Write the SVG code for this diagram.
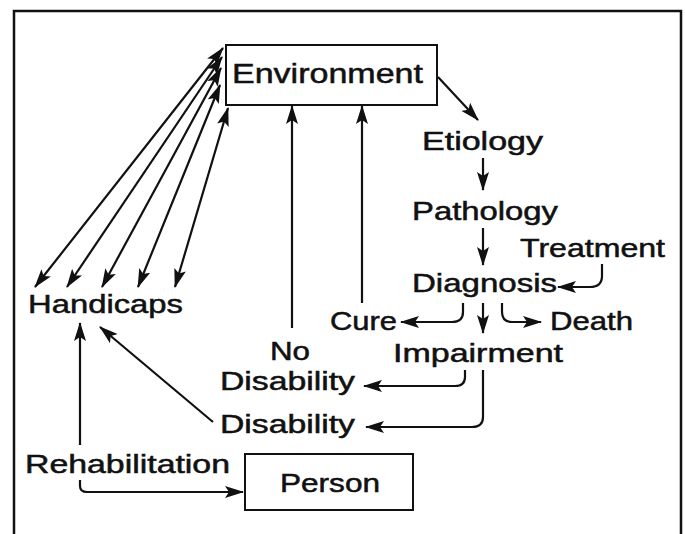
<svg xmlns="http://www.w3.org/2000/svg" width="685" height="534" viewBox="0 0 685 534">
<style>
text{font-family:"Liberation Sans","DejaVu Sans",Arial,sans-serif;font-size:25px;fill:#111;stroke:#111;stroke-width:0.5}
.box{fill:#fff;stroke:#111;stroke-width:2}
.c{fill:none;stroke:#111;stroke-width:2.2}
.a{marker-end:url(#ah)}
.d{marker-start:url(#ah);marker-end:url(#ah)}
.frame{fill:none;stroke:#111;stroke-width:2.5}
</style>
<defs>
<marker id="ah" markerUnits="userSpaceOnUse" markerWidth="19" markerHeight="12" refX="18" refY="6" orient="auto-start-reverse" viewBox="0 0 19 12">
<path d="M0,0 L19,6 L0,12 L4,6 z" fill="#111"/>
</marker>
</defs>
<path class="frame" d="M14,534 L14,11 L681,11 L681,534"/>
<g id="connectors">
<path class="c a" d="M438,77 L478,120"/>
<path class="c a" d="M483,158 L483,190"/>
<path class="c a" d="M483,228 L483,265"/>
<path class="c a" d="M602,264 L602,276 Q602,287 590,287 L558,287"/>
<path class="c a" d="M463,303 L463,312 Q463,322 452,322 L401,322"/>
<path class="c a" d="M483,303 L483,333"/>
<path class="c a" d="M502,303 L502,312 Q502,322 512,322 L541,322"/>
<path class="c a" d="M362,303 L362,106"/>
<path class="c a" d="M292,328 L292,106"/>
<path class="c a" d="M465,370 L465,377 Q465,386 455,386 L364,386"/>
<path class="c a" d="M483,370 L483,417 Q483,427 472,427 L366,427"/>
<path class="c a" d="M213,422 L100,327"/>
<path class="c a" d="M80,445 L80,323"/>
<path class="c a" d="M80,480 L80,486 Q80,492 87,492 L243,492"/>
<path class="c d" d="M35,287 L223,48"/>
<path class="c d" d="M67,287 L222,57"/>
<path class="c d" d="M102,287 L221,68"/>
<path class="c d" d="M138,287 L220,85"/>
<path class="c d" d="M175,287 L228,108"/>
</g>
<g id="environment">
<rect class="box" x="226" y="45" width="211" height="60"/>
<text x="232" y="83" textLength="191" lengthAdjust="spacingAndGlyphs" style="font-size:27px">Environment</text>
</g>
<g id="etiology"><text x="422" y="150" textLength="121" lengthAdjust="spacingAndGlyphs">Etiology</text></g>
<g id="pathology"><text x="412" y="220" textLength="146" lengthAdjust="spacingAndGlyphs">Pathology</text></g>
<g id="treatment"><text x="520" y="257" textLength="145" lengthAdjust="spacingAndGlyphs">Treatment</text></g>
<g id="diagnosis"><text x="412" y="292" textLength="145" lengthAdjust="spacingAndGlyphs">Diagnosis</text></g>
<g id="cure"><text x="330" y="330" textLength="67" lengthAdjust="spacingAndGlyphs">Cure</text></g>
<g id="death"><text x="550" y="330" textLength="83" lengthAdjust="spacingAndGlyphs">Death</text></g>
<g id="impairment"><text x="393" y="362" textLength="170" lengthAdjust="spacingAndGlyphs">Impairment</text></g>
<g id="handicaps"><text x="28" y="313" textLength="155" lengthAdjust="spacingAndGlyphs">Handicaps</text></g>
<g id="no-disability">
<text x="270" y="360" textLength="40" lengthAdjust="spacingAndGlyphs">No</text>
<text x="220" y="390" textLength="135" lengthAdjust="spacingAndGlyphs">Disability</text>
</g>
<g id="disability"><text x="220" y="433" textLength="135" lengthAdjust="spacingAndGlyphs">Disability</text></g>
<g id="rehabilitation"><text x="25" y="473" textLength="205" lengthAdjust="spacingAndGlyphs">Rehabilitation</text></g>
<g id="person">
<rect class="box" x="245" y="454" width="168" height="56"/>
<text x="280" y="492" textLength="100" lengthAdjust="spacingAndGlyphs">Person</text>
</g>
</svg>
